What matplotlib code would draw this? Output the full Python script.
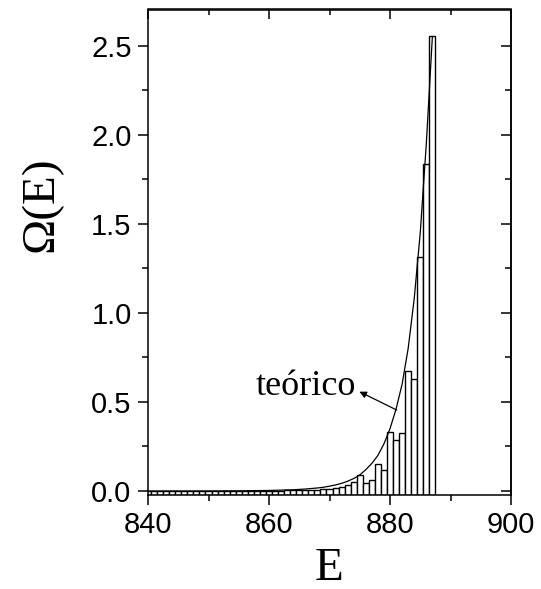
import matplotlib
matplotlib.use("Agg")
import matplotlib.pyplot as plt
from matplotlib.ticker import MultipleLocator

# ---- data ----
energies = list(range(840, 888))
omega_hist = [0.001, 0.001, 0.001, 0.001, 0.001, 0.001, 0.001, 0.001, 0.001, 0.001,
              0.001, 0.001, 0.001, 0.001, 0.001, 0.001, 0.001, 0.001, 0.001, 0.002,
              0.002, 0.002, 0.002, 0.003, 0.003, 0.004, 0.004, 0.005, 0.007, 0.010,
              0.012, 0.015, 0.024, 0.034, 0.052, 0.090, 0.043, 0.062, 0.152, 0.118,
              0.330, 0.287, 0.324, 0.674, 0.627, 1.316, 1.835, 2.555]

theory_E = [840, 850, 855, 860, 862, 864, 865, 866, 867, 868, 869, 870, 871, 872,
            873, 874, 875, 876, 877, 878, 879, 880, 881, 882, 883, 884, 885, 886, 887]
theory_omega = [0.0, 0.0003, 0.001, 0.003, 0.005, 0.007, 0.009, 0.011, 0.014, 0.017,
                0.021, 0.027, 0.034, 0.043, 0.055, 0.070, 0.090, 0.120, 0.155, 0.200,
                0.265, 0.350, 0.460, 0.600, 0.800, 1.080, 1.450, 1.950, 2.550]

annot_text = "teórico"
xlabel = "E"
ylabel = "Ω(E)"

# ---- figure ----
W, H = 541, 589
fig = plt.figure(figsize=(W / 100, H / 100), dpi=100)
ax = fig.add_axes([148 / W, 1 - 495 / H, (511 - 148) / W, (495 - 9.5) / H])

YMIN, YMAX = -0.0225, 2.705
ax.set_xlim(840, 900)
ax.set_ylim(YMIN, YMAX)

ax.bar(energies, [v - YMIN for v in omega_hist], bottom=YMIN, width=1.0,
       facecolor="white", edgecolor="black", linewidth=1.0, zorder=2)
ax.plot(theory_E, theory_omega, color="black", linewidth=0.9, zorder=3)

# annotation (arrow points at the label)
ax.annotate("", xy=(874.95, 0.558), xytext=(881.1, 0.455),
            arrowprops=dict(arrowstyle="-|>", color="black", lw=0.9,
                            mutation_scale=10, shrinkA=0, shrinkB=0), zorder=4)
ax.text(874.3, 0.54, annot_text, ha="right", va="baseline",
        fontsize=26, family="Liberation Serif")

# ticks
TL_MAJ, TL_MIN, TW = 7.3, 4, 1.1
ax.xaxis.set_major_locator(MultipleLocator(20))
ax.xaxis.set_minor_locator(MultipleLocator(10))
ax.yaxis.set_major_locator(MultipleLocator(0.5))
ax.yaxis.set_minor_locator(MultipleLocator(0.25))
ax.tick_params(which="both", direction="out", width=TW, top=False, right=False,
               labelsize=21, pad=4.5)
ax.tick_params(which="major", length=TL_MAJ)
ax.tick_params(which="minor", length=TL_MIN)
for lab in ax.get_xticklabels() + ax.get_yticklabels():
    lab.set_family("Liberation Sans")

secx = ax.secondary_xaxis("top")
secx.xaxis.set_major_locator(MultipleLocator(20))
secx.xaxis.set_minor_locator(MultipleLocator(10))
secx.tick_params(which="both", direction="in", width=TW, labeltop=False)
secx.tick_params(which="major", length=TL_MAJ)
secx.tick_params(which="minor", length=TL_MIN)
secx.spines["top"].set_linewidth(1.1)

secy = ax.secondary_yaxis("right")
secy.yaxis.set_major_locator(MultipleLocator(0.5))
secy.yaxis.set_minor_locator(MultipleLocator(0.25))
secy.tick_params(which="both", direction="in", width=TW, labelright=False)
secy.tick_params(which="major", length=TL_MAJ)
secy.tick_params(which="minor", length=TL_MIN)
secy.spines["right"].set_linewidth(1.1)

for s in ax.spines.values():
    s.set_linewidth(1.1)

ax.set_xlabel(xlabel, fontsize=34, family="Liberation Serif")
ax.xaxis.set_label_coords(0.5, -0.109)
ax.set_ylabel(ylabel, fontsize=34, family="Liberation Serif")
ax.yaxis.set_label_coords(-0.235, 0.6)

fig.savefig("out.png", dpi=100)
